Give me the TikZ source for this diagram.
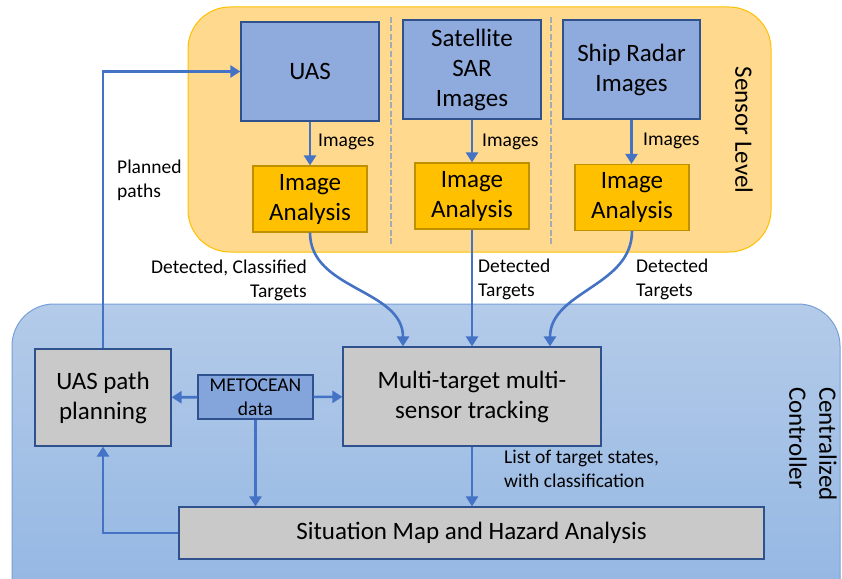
\documentclass[tikz,border=0pt]{standalone}
\usepackage{fontspec}
\setmainfont{Carlito}
\usepackage{tikz}
\usetikzlibrary{arrows.meta,shapes.geometric}
\definecolor{sensorfill}{RGB}{255,217,142}
\definecolor{sensordraw}{RGB}{255,192,0}
\definecolor{uasblue}{RGB}{143,170,220}
\definecolor{darkblue}{RGB}{47,82,143}
\definecolor{gold}{RGB}{255,192,0}
\definecolor{golddraw}{RGB}{191,144,0}
\definecolor{greybox}{RGB}{201,201,201}
\definecolor{metblue}{RGB}{132,165,220}
\definecolor{linkblue}{RGB}{68,114,196}
\definecolor{ctrltop}{RGB}{180,203,233}
\definecolor{ctrlbottom}{RGB}{143,180,226}
\definecolor{ctrldraw}{RGB}{120,160,215}
\definecolor{sepgrey}{RGB}{166,170,180}
\newcommand{\bigtxt}{\fontsize{25}{30}\selectfont}
\newcommand{\smalltxt}{\fontsize{19.5}{24}\selectfont}
\tikzstyle{sensorbox} = [rectangle, draw=darkblue, line width=1.2pt, fill=uasblue, minimum width=138pt, minimum height=99pt, inner sep=0pt, align=center, font=\bigtxt]
\tikzstyle{analysisbox} = [rectangle, draw=golddraw, line width=1.2pt, fill=gold, minimum width=114pt, minimum height=66pt, inner sep=0pt, align=center, font=\bigtxt]
\tikzstyle{ctrlbox} = [rectangle, draw=darkblue, line width=1.2pt, fill=greybox, inner sep=0pt, align=center, font=\bigtxt]
\tikzstyle{metbox} = [rectangle, draw=darkblue, line width=1.2pt, fill=metblue, minimum width=115pt, minimum height=44pt, inner sep=0pt, align=center, font=\smalltxt]
\tikzstyle{lbl} = [inner sep=0pt, font=\smalltxt]
\tikzstyle{arrow} = [draw=linkblue, line width=2.6pt, -{Triangle[width=12pt,length=10pt]}]
\tikzstyle{separator} = [draw=sepgrey, line width=1.5pt, dash pattern=on 6pt off 2.5pt]

\begin{document}
\begin{tikzpicture}[x=1pt,y=-1pt]
\useasboundingbox (0,0) rectangle (842,578);
% the two levels
\begin{scope}
\clip (0,0) rectangle (842,578);
\draw[fill=sensorfill, draw=sensordraw, line width=1pt, rounded corners=42pt] (188,7) rectangle (771,252);
\draw[top color=ctrltop, bottom color=ctrlbottom, draw=ctrldraw, line width=1pt, rounded corners=42pt] (12,304) rectangle (840,640);
\end{scope}
\draw[separator] (391,17) -- (391,245);
\draw[separator] (551,17) -- (551,245);
\node (sensor) [font=\bigtxt, rotate=-90] at (744,130) {Sensor Level};
\node (central) [font=\bigtxt, rotate=-90, align=left] at (813,444) {Centralized\\Controller};

% sensors
\node (uas) [sensorbox] at (310,71.5) {UAS};
\node (sar) [sensorbox] at (472,69.5) {Satellite\\SAR\\Images};
\node (radar) [sensorbox, minimum width=137pt] at (631.5,69.5) {Ship Radar\\Images};
\node (ia1) [analysisbox] at (310,199) {Image\\Analysis};
\node (ia2) [analysisbox] at (472,196) {Image\\Analysis};
\node (ia3) [analysisbox] at (632,197.5) {Image\\Analysis};

% controller
\node (planning) [ctrlbox, minimum width=136pt, minimum height=97pt] at (103,397.5) {UAS path\\planning};
\node (metocean) [metbox] at (255.5,397) {METOCEAN\\data};
\node (tracking) [ctrlbox, minimum width=258pt, minimum height=99pt] at (472,396.5) {Multi-target multi-\\sensor tracking};
\node (situation) [ctrlbox, minimum width=585pt, minimum height=52pt] at (471.5,533) {Situation Map and Hazard Analysis};

% links
\draw[arrow] (uas) -- (ia1);
\draw[arrow] (sar) -- (ia2);
\draw[arrow] (radar.south) -- (ia3.north -| radar.south);
\node (img1) [lbl, anchor=west] at (318,142) {Images};
\node (img2) [lbl, anchor=west] at (482,142) {Images};
\node (img3) [lbl, anchor=west] at (643,141) {Images};

\draw[arrow] (ia1.south) to[out=-90, in=90] ([xshift=-69pt]tracking.north);
\draw[arrow] (ia2.south) -- (ia2.south |- tracking.north);
\draw[arrow] (ia3.south) to[out=-90, in=90] ([xshift=78pt]tracking.north);
\node (det1) [lbl, anchor=east, align=right] at (307,280) {Detected, Classified\\Targets};
\node (det2) [lbl, anchor=west, align=left] at (478,279) {Detected\\Targets};
\node (det3) [lbl, anchor=west, align=left] at (636,279) {Detected\\Targets};

\draw[arrow] (metocean) -- (planning);
\draw[arrow] (metocean) -- (tracking);
\draw[arrow] (metocean.south) -- (metocean.south |- situation.north);
\draw[arrow] (tracking.south) -- (tracking.south |- situation.north);
\node (states) [lbl, anchor=west, align=left] at (504,469) {List of target states,\\with classification};

\draw[arrow] (situation.west) -| (planning.south);
\draw[arrow] (planning.north) |- (uas.west);
\node (planned) [lbl, anchor=west, align=left] at (117,180) {Planned\\paths};
\end{tikzpicture}
\end{document}
